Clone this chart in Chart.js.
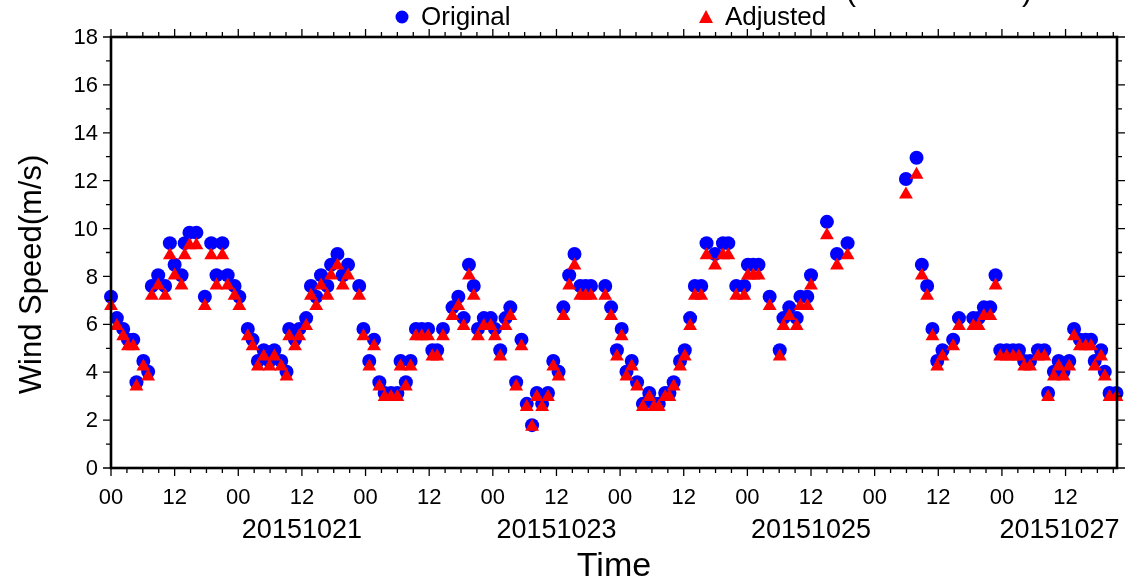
<!DOCTYPE html>
<html>
<head>
<meta charset="utf-8">
<script src="https://cdn.jsdelivr.net/npm/chart.js@4.4.1/dist/chart.umd.min.js"></script>
<style>
  html, body { margin: 0; padding: 0; background: #fff; }
  #wrap { width: 1125px; height: 584px; }
</style>
</head>
<body>
<div id="wrap"><canvas id="windChart" width="1125" height="584"></canvas></div>
<script>
// hours since 2015-10-20 00:00
const hours = [0.0,1.1,2.3,3.2,4.2,4.8,6.1,7.0,7.7,8.9,
  10.2,11.1,12.0,13.3,13.9,14.8,16.1,17.7,18.9,19.9,
  21.0,22.0,23.3,24.2,25.8,26.7,27.7,28.8,29.9,30.8,
  32.1,33.1,33.6,34.7,35.5,36.8,37.7,38.7,39.6,40.8,
  41.5,42.7,43.7,44.7,46.8,47.6,48.7,49.6,50.6,51.6,
  52.8,54.0,54.6,55.6,56.5,57.5,58.6,59.8,60.6,61.5,
  62.6,64.4,65.5,66.5,67.5,68.4,69.2,70.3,71.6,72.4,
  73.4,74.4,75.3,76.4,77.4,78.4,79.4,80.3,81.3,82.4,
  83.4,84.4,85.3,86.4,87.4,88.5,89.5,90.5,93.2,94.3,
  95.4,96.3,97.2,98.2,99.2,100.3,101.5,102.4,103.3,104.5,
  105.3,106.1,107.3,108.2,109.2,110.1,111.3,112.3,113.9,115.4,
  116.4,117.9,119.4,120.1,121.1,122.1,124.2,126.1,126.8,127.9,
  129.3,130.0,131.3,132.0,135.0,136.9,138.9,149.9,151.9,152.9,
  153.9,154.9,155.8,156.8,158.8,159.9,162.6,163.6,164.6,165.8,
  166.8,167.7,168.9,170.1,171.2,172.2,173.3,174.8,176.0,176.7,
  177.8,178.7,179.6,180.7,181.6,182.7,183.8,184.8,185.5,186.7,
  187.4,188.3,189.6];

const original = [7.15,6.26,5.81,5.36,5.36,3.58,4.47,4.02,7.60,8.05,
  7.60,9.39,8.49,8.05,9.39,9.83,9.83,7.15,9.39,8.05,
  9.39,8.05,7.60,7.15,5.81,5.36,4.47,4.92,4.47,4.92,
  4.47,4.02,5.81,5.36,5.81,6.26,7.60,7.15,8.05,7.60,
  8.49,8.94,8.05,8.49,7.60,5.81,4.47,5.36,3.58,3.13,
  3.13,3.13,4.47,3.58,4.47,5.81,5.81,5.81,4.92,4.92,
  5.81,6.71,7.15,6.26,8.49,7.60,5.81,6.26,6.26,5.81,
  4.92,6.26,6.71,3.58,5.36,2.68,1.79,3.13,2.68,3.13,
  4.47,4.02,6.71,8.05,8.94,7.60,7.60,7.60,7.60,6.71,
  4.92,5.81,4.02,4.47,3.58,2.68,3.13,2.68,2.68,3.13,
  3.13,3.58,4.47,4.92,6.26,7.60,7.60,9.39,8.94,9.39,
  9.39,7.60,7.60,8.49,8.49,8.49,7.15,4.92,6.26,6.71,
  6.26,7.15,7.15,8.05,10.28,8.94,9.39,12.07,12.96,8.49,
  7.60,5.81,4.47,4.92,5.36,6.26,6.26,6.26,6.71,6.71,
  8.05,4.92,4.92,4.92,4.92,4.47,4.47,4.92,4.92,3.13,
  4.02,4.47,4.02,4.47,5.81,5.36,5.36,5.36,4.47,4.92,
  4.02,3.13,3.13];

const adjusted = [6.77,5.93,5.50,5.08,5.08,3.40,4.24,3.82,7.19,7.62,
  7.19,8.88,8.04,7.62,8.88,9.30,9.30,6.77,8.88,7.62,
  8.88,7.62,7.19,6.77,5.50,5.08,4.24,4.66,4.24,4.66,
  4.24,3.82,5.50,5.08,5.50,5.93,7.19,6.77,7.62,7.19,
  8.04,8.46,7.62,8.04,7.19,5.50,4.24,5.08,3.40,2.97,
  2.97,2.97,4.24,3.40,4.24,5.50,5.50,5.50,4.66,4.66,
  5.50,6.35,6.77,5.93,8.04,7.19,5.50,5.93,5.93,5.50,
  4.66,5.93,6.35,3.40,5.08,2.55,1.72,2.97,2.55,2.97,
  4.24,3.82,6.35,7.62,8.46,7.19,7.19,7.19,7.19,6.35,
  4.66,5.50,3.82,4.24,3.40,2.55,2.97,2.55,2.55,2.97,
  2.97,3.40,4.24,4.66,5.93,7.19,7.19,8.88,8.46,8.88,
  8.88,7.19,7.19,8.04,8.04,8.04,6.77,4.66,5.93,6.35,
  5.93,6.77,6.77,7.62,9.72,8.46,8.88,11.42,12.25,8.04,
  7.19,5.50,4.24,4.66,5.08,5.93,5.93,5.93,6.35,6.35,
  7.62,4.66,4.66,4.66,4.66,4.24,4.24,4.66,4.66,2.97,
  3.82,4.24,3.82,4.24,5.50,5.08,5.08,5.08,4.24,4.66,
  3.82,2.97,2.97];

// axis ticks
const yTicks = [0, 2, 4, 6, 8, 10, 12, 14, 16, 18];
const hourTicks = [0, 12, 24, 36, 48, 60, 72, 84, 96, 108, 120, 132, 144, 156, 168, 180];
const hourLabels = ['00','12','00','12','00','12','00','12','00','12','00','12','00','12','00','12'];
const dateLabels = ['20151021', '20151023', '20151025', '20151027'];
const dateCenters = [36, 84, 132, 178.85];
const xMax = 189.7;

const FONT = "'Liberation Sans', Arial, Helvetica, sans-serif";

// axes, frame, labels and legend (drawn after the points so the frame sits on top)
const gmtFrame = {
    id: 'gmtFrame',
    afterDatasetsDraw(chart) {
        const { ctx, chartArea: a, scales: { x, y } } = chart;
        ctx.save();
        ctx.strokeStyle = '#000';
        ctx.fillStyle = '#000';

        // y ticks, left and right, major every 2, minor every 1
        ctx.lineWidth = 1.3;
        ctx.beginPath();
        for (let v = 0; v <= 18; v++) {
            const py = y.getPixelForValue(v);
            const len = v % 2 === 0 ? 8 : 5;
            ctx.moveTo(a.left, py); ctx.lineTo(a.left - len, py);
            ctx.moveTo(a.right, py); ctx.lineTo(a.right + len, py);
        }
        // x ticks, bottom and top, major every 12h, minor every 3h
        for (let h = 0; h <= xMax; h += 3) {
            const px = x.getPixelForValue(h);
            const len = h % 12 === 0 ? 8 : 5;
            ctx.moveTo(px, a.bottom); ctx.lineTo(px, a.bottom + len);
            ctx.moveTo(px, a.top); ctx.lineTo(px, a.top - len);
        }
        ctx.stroke();

        // frame
        ctx.lineWidth = 2.6;
        ctx.strokeRect(a.left, a.top, a.right - a.left, a.bottom - a.top);

        // y tick labels
        ctx.font = '22px ' + FONT;
        ctx.textAlign = 'right';
        ctx.textBaseline = 'middle';
        yTicks.forEach(v => ctx.fillText(String(v), a.left - 13, y.getPixelForValue(v) + 1));

        // x tick labels
        ctx.textAlign = 'center';
        hourTicks.forEach((h, i) => ctx.fillText(hourLabels[i], x.getPixelForValue(h), 498));

        // date labels
        ctx.font = '27px ' + FONT;
        dateLabels.forEach((d, i) => ctx.fillText(d, x.getPixelForValue(dateCenters[i]), 531));

        // axis titles
        ctx.font = '34px ' + FONT;
        ctx.fillText('Time', (a.left + a.right) / 2, 567);
        ctx.save();
        ctx.font = '31px ' + FONT;
        ctx.translate(32, (a.top + a.bottom) / 2 + 22);
        ctx.rotate(-Math.PI / 2);
        ctx.fillText('Wind Speed(m/s)', 0, 0);
        ctx.restore();

        // legend
        ctx.font = '26px ' + FONT;
        ctx.textAlign = 'left';
        ctx.fillStyle = '#0000ff';
        ctx.beginPath(); ctx.arc(402, 17, 6.5, 0, Math.PI * 2); ctx.fill();
        ctx.fillStyle = '#ff0000';
        ctx.beginPath();
        ctx.moveTo(706, 10); ctx.lineTo(713, 23); ctx.lineTo(699, 23); ctx.closePath(); ctx.fill();
        ctx.fillStyle = '#000';
        ctx.fillText('Original', 421, 18);
        ctx.fillText('Adjusted', 725, 18);

        // bottom of the title that is cut off at the top edge
        ctx.font = '30px ' + FONT;
        ctx.textBaseline = 'alphabetic';
        ctx.fillText('(', 846, 1);
        ctx.fillText(')', 1022, 1);
        ctx.restore();
    }
};

const ctx = document.getElementById('windChart').getContext('2d');
new Chart(ctx, {
    type: 'scatter',
    data: {
        datasets: [
            {
                label: 'Original',
                data: hours.map((h, i) => ({ x: h, y: original[i] })),
                pointStyle: 'circle',
                pointRadius: 7,
                pointBorderWidth: 0,
                backgroundColor: '#0000ff',
                borderColor: '#0000ff',
                order: 1,
                clip: false
            },
            {
                label: 'Adjusted',
                data: hours.map((h, i) => ({ x: h, y: adjusted[i] })),
                pointStyle: 'triangle',
                pointRadius: 8,
                pointBorderWidth: 0,
                backgroundColor: '#ff0000',
                borderColor: '#ff0000',
                order: 0,
                clip: false
            }
        ]
    },
    options: {
        responsive: false,
        animation: false,
        devicePixelRatio: 1,
        layout: { padding: { left: 111, top: 37, right: 5, bottom: 116 } },
        scales: {
            x: { type: 'linear', min: 0, max: xMax, display: false },
            y: { min: 0, max: 18, display: false }
        },
        plugins: {
            legend: { display: false },
            tooltip: { enabled: false }
        }
    },
    plugins: [gmtFrame]
});
</script>
</body>
</html>
